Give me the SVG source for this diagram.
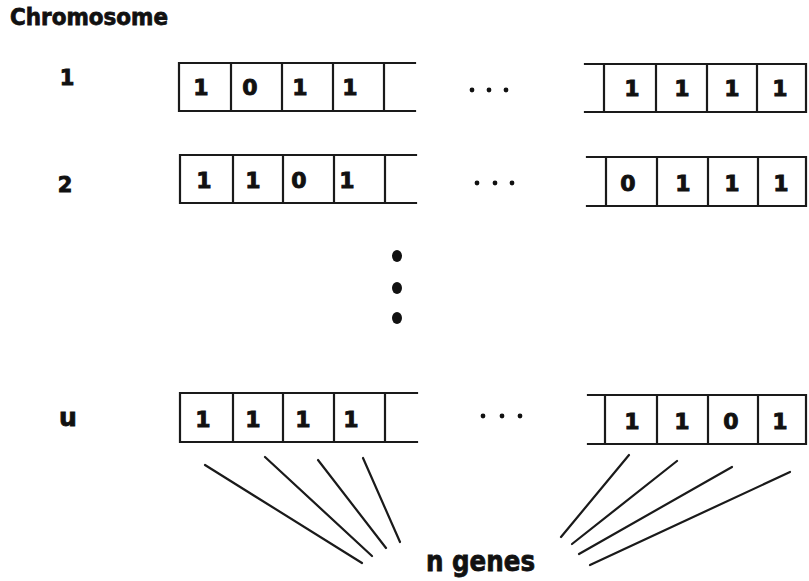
<svg xmlns="http://www.w3.org/2000/svg" width="809" height="581" viewBox="0 0 809 581">
  <style>
    .bg { fill: #ffffff; }
    .frame { fill: none; stroke: #1a1a1a; stroke-width: 2.2; stroke-linecap: square; }
    .gene { font-family: "DejaVu Sans", "Liberation Sans", sans-serif; font-weight: bold; font-size: 22px; fill: #111; stroke: #111; stroke-width: 0.9; text-anchor: middle; }
    .label { font-family: "DejaVu Sans", "Liberation Sans", sans-serif; font-weight: bold; font-size: 21px; fill: #111; stroke: #111; stroke-width: 0.9; text-anchor: middle; }
    .title { font-family: "DejaVu Sans", "Liberation Sans", sans-serif; font-weight: bold; font-size: 23px; fill: #111; stroke: #111; stroke-width: 0.8; }
    .dot { fill: #111; }
    .link { stroke: #1a1a1a; stroke-width: 2.2; stroke-linecap: round; fill: none; }
  </style>
  <rect class="bg" x="0" y="0" width="809" height="581"/>

  <text class="title" x="10" y="25" textLength="158" lengthAdjust="spacingAndGlyphs">Chromosome</text>

  <!-- chromosome 1 -->
  <g id="chromosome-1">
    <text class="label" x="67" y="85">1</text>
    <path class="frame" d="M415 63 H179 V111 H415 M231 63 V111 M282 63 V111 M333 63 V111 M384 63 V111"/>
    <text class="gene" x="201" y="95">1</text>
    <text class="gene" x="250" y="95">0</text>
    <text class="gene" x="300" y="95">1</text>
    <text class="gene" x="350" y="95">1</text>
    <circle class="dot" cx="472" cy="90" r="2.4"/>
    <circle class="dot" cx="489" cy="90" r="2.4"/>
    <circle class="dot" cx="506" cy="90" r="2.4"/>
    <path class="frame" d="M585 64 H806 V112 H585 M604 64 V112 M656 64 V112 M707 64 V112 M757 64 V112"/>
    <text class="gene" x="632" y="96">1</text>
    <text class="gene" x="682" y="96">1</text>
    <text class="gene" x="732" y="96">1</text>
    <text class="gene" x="780" y="96">1</text>
  </g>

  <!-- chromosome 2 -->
  <g id="chromosome-2">
    <text class="label" x="65" y="192">2</text>
    <path class="frame" d="M416 155 H180 V203 H416 M233 155 V203 M283 155 V203 M334 155 V203 M385 155 V203"/>
    <text class="gene" x="204" y="188">1</text>
    <text class="gene" x="253" y="188">1</text>
    <text class="gene" x="299" y="188">0</text>
    <text class="gene" x="347" y="188">1</text>
    <circle class="dot" cx="477" cy="183" r="2.4"/>
    <circle class="dot" cx="495" cy="183" r="2.4"/>
    <circle class="dot" cx="512" cy="183" r="2.4"/>
    <path class="frame" d="M587 157 H806 V206 H587 M606 157 V206 M657 157 V206 M708 157 V206 M758 157 V206"/>
    <text class="gene" x="628" y="191">0</text>
    <text class="gene" x="683" y="191">1</text>
    <text class="gene" x="732" y="191">1</text>
    <text class="gene" x="781" y="191">1</text>
  </g>

  <!-- vertical ellipsis between rows -->
  <g id="ellipsis">
    <ellipse class="dot" cx="397" cy="256" rx="5" ry="6"/>
    <ellipse class="dot" cx="397" cy="288" rx="5" ry="6"/>
    <ellipse class="dot" cx="397" cy="318" rx="5" ry="6"/>
  </g>

  <!-- chromosome u -->
  <g id="chromosome-u">
    <text class="label" x="68" y="426" style="font-size:25px">u</text>
    <path class="frame" d="M417 393 H180 V442 H417 M233 393 V442 M283 393 V442 M334 393 V442 M385 393 V442"/>
    <text class="gene" x="203" y="427">1</text>
    <text class="gene" x="253" y="427">1</text>
    <text class="gene" x="303" y="427">1</text>
    <text class="gene" x="351" y="427">1</text>
    <circle class="dot" cx="483" cy="416" r="2.4"/>
    <circle class="dot" cx="502" cy="416" r="2.4"/>
    <circle class="dot" cx="520" cy="416" r="2.4"/>
    <path class="frame" d="M588 395 H806 V444 H588 M605 395 V444 M657 395 V444 M708 395 V444 M758 395 V444"/>
    <text class="gene" x="632" y="429">1</text>
    <text class="gene" x="682" y="429">1</text>
    <text class="gene" x="731" y="429">0</text>
    <text class="gene" x="780" y="429">1</text>
  </g>

  <!-- gene pointers -->
  <g id="connectors">
    <line class="link" x1="205" y1="465" x2="362" y2="563"/>
    <line class="link" x1="265" y1="457" x2="372" y2="556"/>
    <line class="link" x1="318" y1="460" x2="386" y2="548"/>
    <line class="link" x1="363" y1="458" x2="400" y2="542"/>
    <line class="link" x1="629" y1="455" x2="561" y2="537"/>
    <line class="link" x1="677" y1="461" x2="572" y2="544"/>
    <line class="link" x1="732" y1="467" x2="579" y2="554"/>
    <line class="link" x1="790" y1="472" x2="590" y2="565"/>
  </g>

  <g id="n-genes">
    <text class="title" x="426" y="571" style="font-size:28px" textLength="109" lengthAdjust="spacingAndGlyphs">n genes</text>
  </g>
</svg>
